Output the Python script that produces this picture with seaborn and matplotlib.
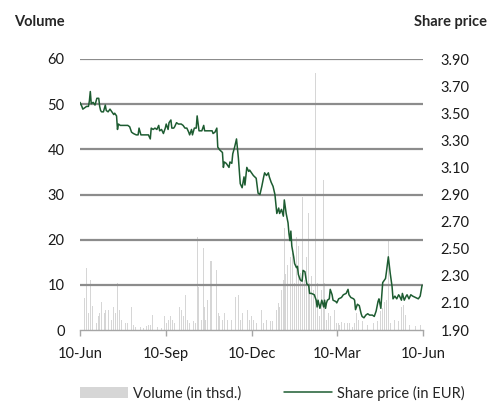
import matplotlib
matplotlib.use("Agg")
import matplotlib.pyplot as plt
import seaborn as sns
import pandas as pd
from matplotlib.patches import Patch
from matplotlib.lines import Line2D

# x axis: days counted from 10-Jun
tick_days = [0, 92, 183, 274, 366]
tick_labels = ["10-Jun", "10-Sep", "10-Dec", "10-Mar", "10-Jun"]
volume_ticks = [0, 10, 20, 30, 40, 50, 60]
price_ticks = [1.90, 2.10, 2.30, 2.50, 2.70, 2.90, 3.10, 3.30, 3.50, 3.70, 3.90]

price_day = [
    0, 2, 3, 5, 7, 9, 10, 11, 12, 14, 16, 18, 20, 21, 22, 23, 25, 27, 28, 30,
    32, 34, 36, 37, 39, 40, 41, 43, 46, 51, 53, 55, 57, 60, 62, 63, 65, 67, 70, 73,
    75, 76, 78, 80, 82, 84, 85, 87, 89, 91, 92, 94, 95, 97, 98, 100, 101, 103, 105, 108,
    110, 112, 114, 116, 117, 119, 120, 122, 124, 125, 127, 130, 132, 133, 139, 141, 142, 144, 146, 147,
    149, 152, 153, 154, 156, 159, 160, 162, 163, 165, 167, 169, 171, 173, 175, 176, 178, 180, 181, 185,
    188, 190, 192, 194, 196, 197, 199, 201, 202, 204, 206, 208, 210, 212, 213, 215, 217, 218, 220, 222,
    223, 224, 225, 226, 228, 229, 231, 232, 233, 235, 237, 238, 240, 242, 244, 245, 247, 250, 252, 253,
    254, 256, 258, 260, 261, 262, 263, 264, 266, 267, 269, 270, 273, 274, 276, 279, 281, 284, 286, 287,
    289, 292, 293, 294, 296, 298, 300, 301, 303, 305, 307, 309, 312, 314, 316, 318, 319, 321, 323, 325,
    326, 327, 329, 331, 333, 334, 336, 338, 340, 341, 343, 344, 346, 348, 349, 351, 353, 355, 358, 361,
    363, 365,
]
price_eur = [
    3.58, 3.55, 3.53, 3.54, 3.55, 3.55, 3.59, 3.66, 3.57, 3.58, 3.56, 3.61, 3.61, 3.55, 3.52, 3.51, 3.51, 3.56, 3.52, 3.51,
    3.53, 3.51, 3.49, 3.50, 3.48, 3.38, 3.42, 3.41, 3.41, 3.41, 3.40, 3.36, 3.35, 3.34, 3.34, 3.39, 3.34, 3.34, 3.34, 3.34,
    3.31, 3.39, 3.38, 3.39, 3.38, 3.41, 3.37, 3.38, 3.35, 3.39, 3.42, 3.38, 3.43, 3.45, 3.39, 3.39, 3.40, 3.43, 3.42, 3.42,
    3.41, 3.39, 3.39, 3.36, 3.34, 3.38, 3.34, 3.39, 3.39, 3.48, 3.37, 3.37, 3.41, 3.37, 3.37, 3.37, 3.35, 3.36, 3.39, 3.25,
    3.23, 3.21, 3.10, 3.14, 3.13, 3.10, 3.14, 3.13, 3.20, 3.25, 3.31, 3.17, 2.98, 2.95, 3.03, 2.97, 3.10, 3.07, 3.08, 3.04,
    3.02, 2.91, 2.90, 2.96, 3.03, 3.06, 3.04, 3.06, 3.03, 2.99, 2.96, 2.90, 2.76, 2.80, 2.76, 2.79, 2.74, 2.86, 2.76, 2.69,
    2.61, 2.56, 2.63, 2.52, 2.44, 2.39, 2.36, 2.37, 2.31, 2.27, 2.26, 2.34, 2.33, 2.24, 2.23, 2.17, 2.17, 2.16, 2.12, 2.07,
    2.12, 2.06, 2.12, 2.07, 2.12, 2.06, 2.10, 2.12, 2.13, 2.20, 2.16, 2.12, 2.11, 2.10, 2.13, 2.14, 2.16, 2.17, 2.20, 2.16,
    2.14, 2.13, 2.12, 2.05, 2.09, 2.08, 2.02, 2.00, 1.99, 2.01, 2.02, 2.01, 2.01, 2.00, 2.04, 2.11, 2.13, 2.06, 2.25, 2.27,
    2.28, 2.33, 2.44, 2.32, 2.22, 2.13, 2.15, 2.13, 2.16, 2.15, 2.12, 2.17, 2.12, 2.15, 2.16, 2.13, 2.16, 2.15, 2.14, 2.13,
    2.15, 2.23,
]

volume_day = [
    1, 5, 7, 9, 11, 13, 15, 18, 20, 21, 23, 26, 27, 30, 32, 34, 36, 38, 40, 42,
    44, 47, 49, 51, 55, 57, 59, 63, 65, 68, 71, 73, 75, 77, 79, 83, 87, 90, 92, 94,
    97, 99, 101, 106, 108, 110, 113, 115, 117, 121, 123, 125, 126, 128, 130, 132, 133, 134, 136, 139,
    140, 142, 143, 146, 148, 149, 152, 154, 157, 159, 162, 166, 169, 171, 173, 176, 179, 181, 183, 185,
    188, 190, 192, 194, 196, 199, 203, 205, 206, 208, 210, 212, 213, 215, 217, 218, 219, 221, 222, 225,
    227, 229, 231, 233, 235, 237, 238, 240, 242, 244, 245, 247, 249, 251, 253, 254, 256, 258, 260, 261,
    263, 265, 267, 270, 272, 274, 276, 277, 279, 282, 285, 286, 288, 291, 293, 295, 297, 301, 302, 307,
    313, 317, 318, 321, 323, 325, 327, 329, 331, 334, 336, 340, 343, 345, 347, 349, 352, 358, 363, 365,
]
volume_thsd = [
    3.0, 7.0, 13.8, 3.7, 11.1, 5.4, 1.5, 1.5, 3.0, 3.7, 6.3, 3.7, 4.4, 4.4, 8.1, 2.2, 5.2, 3.7, 10.4, 4.4,
    2.2, 4.4, 1.5, 1.5, 5.2, 1.1, 0.7, 2.6, 0.7, 0.4, 0.9, 1.1, 1.1, 3.3, 2.2, 0.7, 0.4, 3.0, 1.5, 2.2,
    3.0, 2.2, 1.5, 5.2, 4.4, 3.0, 7.8, 2.2, 1.5, 1.9, 1.5, 20.7, 9.6, 9.6, 2.2, 18.1, 5.2, 2.2, 6.7, 15.2,
    15.2, 3.7, 3.0, 13.3, 3.7, 3.0, 2.2, 3.7, 2.2, 1.5, 2.2, 7.4, 7.8, 2.2, 3.7, 1.5, 4.4, 2.2, 3.0, 2.2,
    1.5, 15.9, 14.8, 4.4, 1.5, 2.2, 1.9, 1.9, 3.0, 3.7, 4.4, 5.9, 5.2, 8.9, 11.1, 22.5, 12.5, 14.4, 40.0, 16.2,
    17.0, 10.4, 20.7, 18.5, 12.6, 29.5, 10.4, 11.1, 16.2, 25.8, 10.4, 11.9, 8.9, 56.8, 10.4, 8.9, 3.0, 8.9, 33.2, 10.4,
    2.2, 3.7, 3.0, 2.2, 4.4, 1.5, 1.5, 1.1, 1.7, 1.6, 1.5, 1.1, 1.5, 0.7, 1.5, 3.7, 2.2, 1.9, 1.1, 1.1,
    1.5, 1.9, 4.8, 4.1, 4.8, 6.3, 6.7, 20.0, 1.5, 2.6, 2.2, 1.9, 5.2, 5.6, 3.3, 1.5, 1.1, 0.9, 1.1, 3.0,
]

sns.set_style("white")
plt.rcParams["font.family"] = ["Lato", "DejaVu Sans"]
plt.rcParams["font.size"] = 10.5

fig = plt.figure(figsize=(4.91, 4.01), dpi=100)
ax = fig.add_axes([80 / 491, 71 / 401, 343 / 491, 271 / 401])

vol = pd.DataFrame({"day": volume_day, "volume": volume_thsd})
sns.histplot(data=vol, x="day", weights="volume", discrete=True, shrink=0.9,
             color="#d6d6d6", alpha=1, linewidth=0, ax=ax)

ax.set_xlim(0, 366)
ax.set_ylim(0, 60)
ax.set_xticks(tick_days)
ax.set_xticklabels(tick_labels)
ax.set_yticks(volume_ticks)
ax.set_xlabel("")
ax.set_ylabel("")
ax.set_axisbelow(False)
ax.yaxis.grid(True, color="#8c8c8c", linewidth=1.6)
ax.yaxis.get_gridlines()[0].set_visible(False)
ax.tick_params(axis="y", length=0, pad=11, labelsize=10.5, colors="#1a1a1a")
ax.tick_params(axis="x", bottom=True, length=4, width=1, color="#a6a6a6",
               pad=8, labelsize=10.5, labelcolor="#1a1a1a")
for side in ["top", "left", "right"]:
    ax.spines[side].set_visible(False)
ax.spines["bottom"].set_color("#a6a6a6")
ax.spines["bottom"].set_linewidth(1)

ax2 = ax.twinx()
sns.lineplot(x=price_day, y=price_eur, estimator=None, sort=False,
             color="#1d5c31", linewidth=1.1, ax=ax2)
ax2.set_ylim(1.90, 3.90)
ax2.set_yticks(price_ticks)
ax2.set_yticklabels([f"{p:.2f}" for p in price_ticks])
ax2.tick_params(axis="y", length=0, pad=12.5, labelsize=10.5, colors="#1a1a1a")
for side in ["top", "left", "right", "bottom"]:
    ax2.spines[side].set_visible(False)
ax2.grid(False)

fig.text(14 / 491, 1 - 22 / 401, "Volume", fontsize=10.5, fontweight="bold",
         ha="left", va="center")
fig.text(487 / 491, 1 - 22 / 401, "Share price", fontsize=10.5, fontweight="bold",
         ha="right", va="center")

handles = [
    Patch(facecolor="#d6d6d6", edgecolor="none", label="Volume (in thsd.)"),
    Line2D([0], [0], color="#1d5c31", linewidth=1.1, label="Share price (in EUR)"),
]
fig.legend(handles=handles, loc="center left", bbox_to_anchor=(80 / 491, 1 - 393 / 401),
           ncol=2, frameon=False, fontsize=10.5, handlelength=3.3,
           handletextpad=0.35, columnspacing=2.9, borderpad=0, borderaxespad=0)

fig.savefig("out.png", dpi=100)
